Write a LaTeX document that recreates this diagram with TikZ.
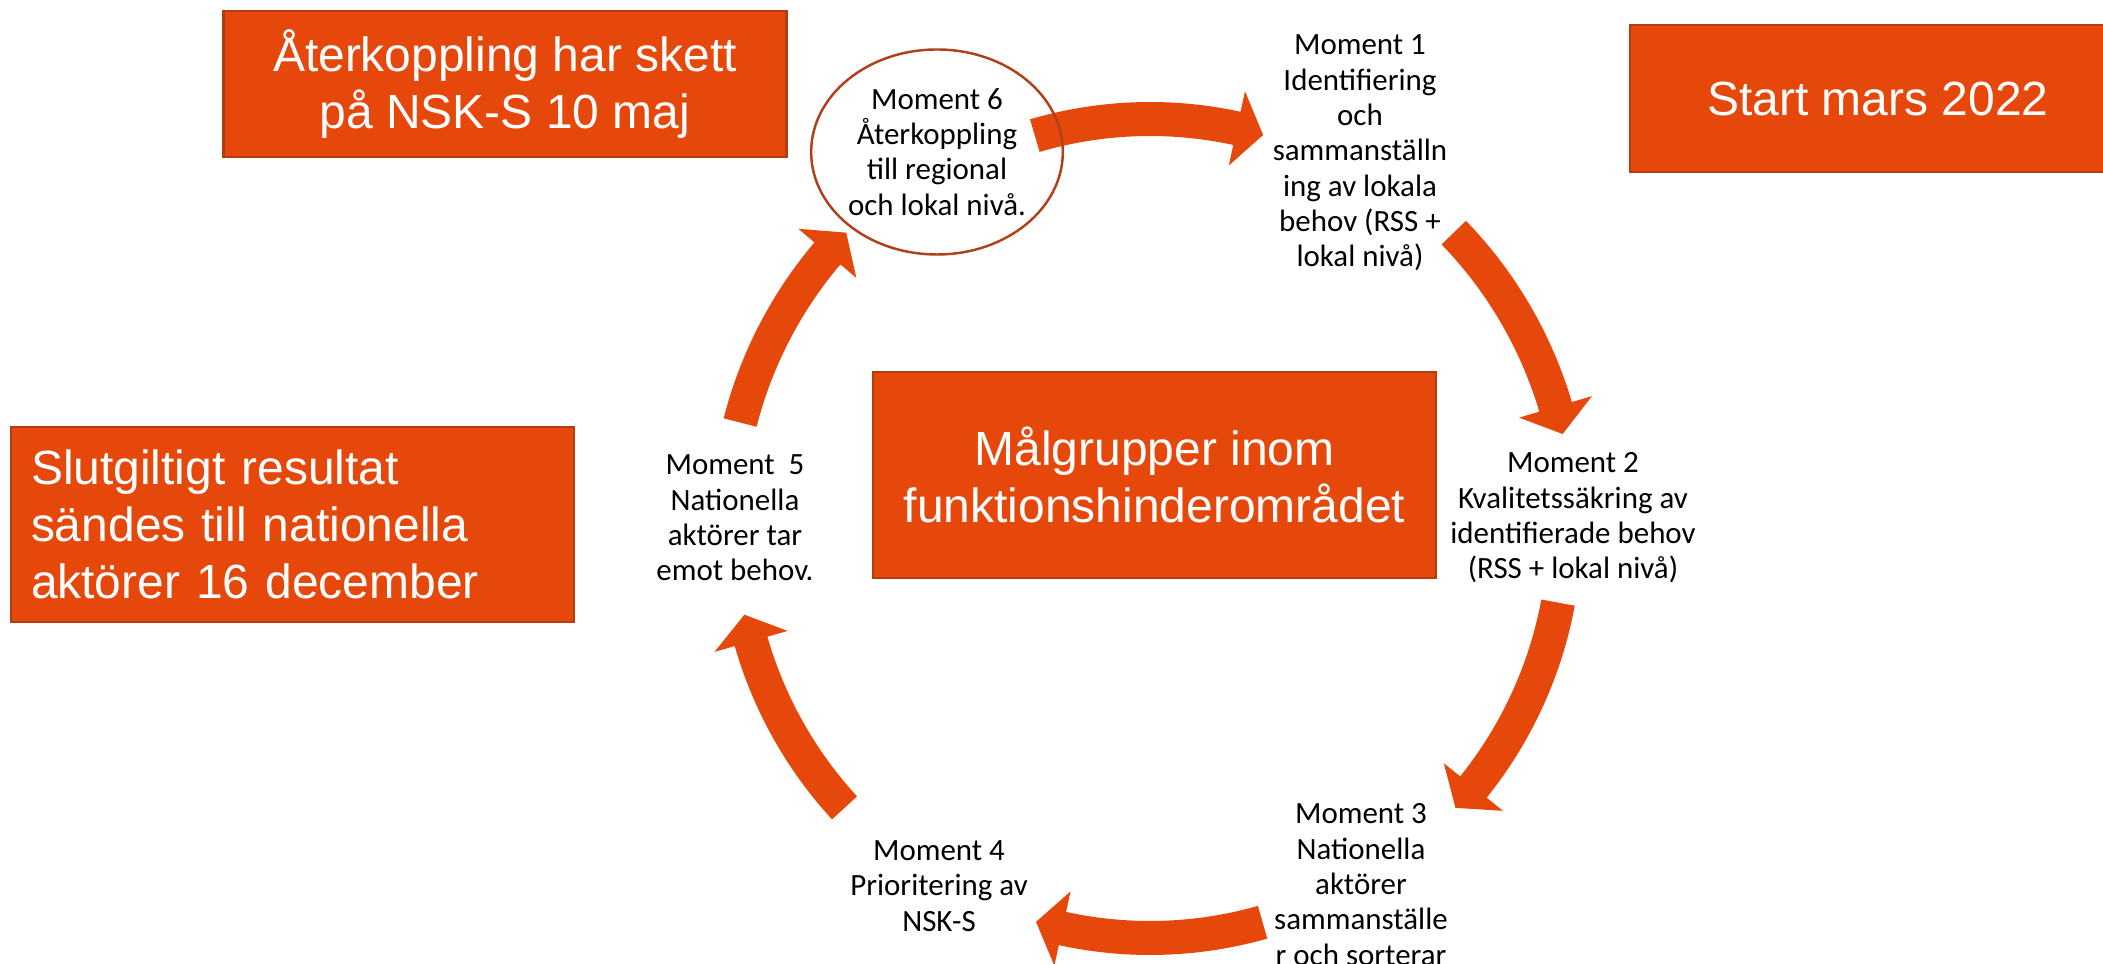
\documentclass[tikz,border=0pt]{standalone}
\usepackage{fontspec}
\setmainfont{Carlito}
\newfontfamily\arialfont{Liberation Sans}
\usetikzlibrary{shapes.geometric}
\definecolor{orng}{HTML}{E6480C}
\definecolor{orngline}{HTML}{B43D0F}
\definecolor{ringline}{HTML}{B0401C}

\begin{document}
\begin{tikzpicture}[
  box/.style={rectangle, draw=orngline, line width=0.6pt, fill=orng, text=white,
    font=\arialfont\fontsize{13.65}{16.2}\selectfont, align=center, inner sep=0pt},
  mom/.style={font=\fontsize{8.8}{10.05}\selectfont, align=center, inner sep=0pt},
  ring/.style={mom, ellipse, draw=ringline, line width=0.7pt,
    minimum width=2.39cm, minimum height=2.05cm},
  arr/.style={fill=orng}
]
\useasboundingbox (0,0) rectangle (21.03,9.64);
\coordinate (ctr) at (11.50,4.37);

\foreach \ta/\tb/\r in {106.4/73.9/4.08, 44.1/12.7/4.23, -10.5/-42.6/4.15,
    -74.1/-106.1/4.11, -137.4/-167.8/4.15, 165.7/135.9/4.23}
  \fill[arr] ([shift={(\ta:\r+0.17)}]ctr) arc[start angle=\ta, end angle=\tb+3.8, radius=\r+0.17]
    -- ([shift={(\tb+3.8:\r+0.38)}]ctr) -- ([shift={(\tb:\r)}]ctr)
    -- ([shift={(\tb+3.8:\r-0.38)}]ctr) -- ([shift={(\tb+3.8:\r-0.17)}]ctr)
    arc[start angle=\tb+3.8, end angle=\ta, radius=\r-0.17] -- cycle;

\node[box, minimum width=5.63cm, minimum height=1.46cm] (fb) at (5.05,8.80) {Återkoppling har skett\\på NSK-S 10 maj};
\node[box, minimum width=4.96cm, minimum height=1.47cm] (start) at (18.78,8.655) {Start mars 2022};
\node[box, minimum width=5.63cm, minimum height=1.95cm, align=left, text width=5.23cm,
  inner xsep=0.2cm] (final) at (2.925,4.395) {Slutgiltigt resultat\\sändes till nationella\\aktörer 16 december};
\node[box, minimum width=5.63cm, minimum height=2.06cm] (hub) at (11.545,4.89) {Målgrupper inom\\funktionshinderområdet};

\node[mom] (m1) at (13.60,8.11) {Moment 1\\Identifiering\\och\\sammanställn\\ing av lokala\\behov (RSS +\\lokal nivå)};
\node[mom] (m2) at (15.73,4.46) {Moment 2\\Kvalitetssäkring av\\identifierade behov\\(RSS + lokal nivå)};
\node[mom] (m3) at (13.61,0.795) {Moment 3\\Nationella\\aktörer\\sammanställe\\r och sorterar};
\node[mom] (m4) at (9.39,0.78) {Moment 4\\Prioritering av\\NSK-S};
\node[mom] (m5) at (7.35,4.46) {Moment~~5\\Nationella\\aktörer tar\\emot behov.};
\node[ring] (m6) at (9.37,8.12) {Moment 6\\Återkoppling\\till regional\\och lokal nivå.};
\end{tikzpicture}
\end{document}
